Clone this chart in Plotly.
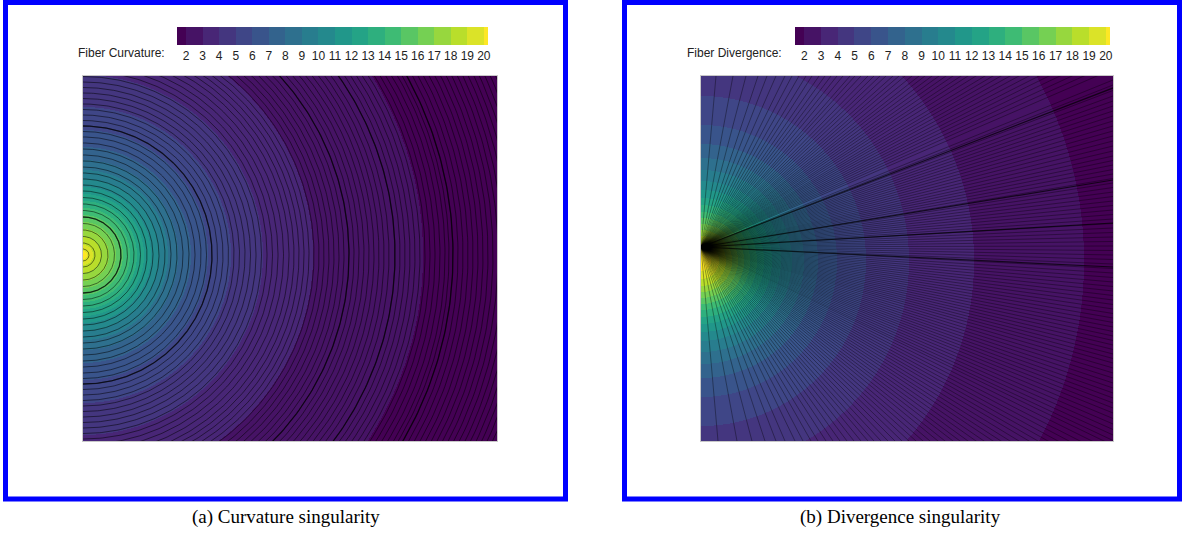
import numpy as np
import plotly.graph_objects as go
from plotly.colors import sample_colorscale

W, H = 1183, 540

# ---------------- data ----------------
LEVELS = list(range(2, 21))
TICK_LABELS = [str(v) for v in LEVELS]
CBAR_MIN, CBAR_MAX = 1.45, 20.25

# radius (1 unit = 100 px) from the singular point at which each level is crossed
CURV_LEVEL_RADII = [3.40, 2.30, 1.80, 1.48, 1.25, 1.08, 0.95, 0.85, 0.76, 0.68,
                    0.61, 0.54, 0.47, 0.40, 0.33, 0.26, 0.18, 0.10, 0.04]
DIV_LEVEL_RADII = [3.83, 2.73, 2.08, 1.65, 1.36, 1.17, 1.03, 0.91, 0.80, 0.71,
                   0.63, 0.56, 0.49, 0.43, 0.37, 0.31, 0.25, 0.18, 0.10]
CURV_CENTER_Y = 0.0
DIV_CENTER_Y = -0.06

# concentric fibres (curvature singularity): radii
CURV_FIBER_RADII = [0.06, 0.12, 0.185, 0.25, 0.315, 0.38, 0.445, 0.51, 0.575, 0.64,
                    0.70, 0.76, 0.82, 0.88, 0.94, 1.00, 1.06, 1.12, 1.18, 1.235,
                    1.29, 1.345, 1.40, 1.455, 1.51, 1.565, 1.62, 1.675, 1.73, 1.785,
                    1.84, 1.895, 1.95, 2.005, 2.06, 2.11, 2.16, 2.21, 2.26, 2.31,
                    2.36, 2.41, 2.46, 2.51, 2.56, 2.61, 2.66, 2.71, 2.76, 2.81,
                    2.86, 2.91, 2.96, 3.01, 3.06, 3.12, 3.17, 3.22, 3.27, 3.32,
                    3.37, 3.42, 3.47, 3.52, 3.57, 3.62, 3.66, 3.70, 3.75, 3.80,
                    3.85, 3.90, 3.95, 4.00, 4.05, 4.10, 4.15, 4.20, 4.25, 4.30,
                    4.35, 4.40, 4.45, 4.50, 4.55]
CURV_DARK_RADII = [0.38, 1.29, 2.66, 3.12, 3.70]

# radial fibres (divergence singularity): where each one leaves the plot
DIV_ORIGIN = (0.0, 0.08)
DIV_RIGHT_EDGE_Y = [1.75, 1.70, 1.645, 1.59, 1.54, 1.49, 1.44, 1.39, 1.34, 1.29,
                    1.24, 1.19, 1.14, 1.09, 1.04, 0.99, 0.945, 0.90, 0.855, 0.81,
                    0.765, 0.72, 0.675, 0.63, 0.585, 0.54, 0.495, 0.45, 0.405, 0.36,
                    0.315, 0.27, 0.225, 0.18, 0.135, 0.09, 0.045, 0.0, -0.045, -0.09,
                    -0.135, -0.18, -0.225, -0.27, -0.315, -0.36, -0.405, -0.45, -0.495, -0.54,
                    -0.585, -0.63, -0.675, -0.72, -0.765, -0.81, -0.855, -0.90, -0.945, -0.99,
                    -1.035, -1.08, -1.13, -1.18, -1.23, -1.28, -1.33, -1.38, -1.43, -1.48,
                    -1.53, -1.58, -1.635, -1.69, -1.745, -1.80, -1.855]
DIV_TOP_EDGE_X = [3.96, 3.83, 3.71, 3.59, 3.48, 3.38, 3.28, 3.18, 3.09, 3.00,
                  2.92, 2.84, 2.75, 2.67, 2.60, 2.52, 2.45, 2.38, 2.31, 2.24,
                  2.18, 2.11, 2.04, 1.98, 1.92, 1.85, 1.79, 1.73, 1.67, 1.60,
                  1.54, 1.49, 1.42, 1.36, 1.30, 1.24, 1.18, 1.11, 1.05, 0.98,
                  0.91, 0.84, 0.75, 0.66, 0.57, 0.45, 0.32, 0.15]
DIV_BOTTOM_EDGE_X = [4.03, 3.91, 3.79, 3.68, 3.57, 3.47, 3.37, 3.28, 3.18, 3.09,
                     3.00, 2.92, 2.83, 2.75, 2.67, 2.59, 2.52, 2.44, 2.37, 2.29,
                     2.22, 2.15, 2.08, 2.01, 1.94, 1.87, 1.80, 1.73, 1.67, 1.60,
                     1.53, 1.46, 1.39, 1.32, 1.25, 1.17, 1.10, 1.02, 0.94, 0.84,
                     0.75, 0.64, 0.51, 0.36, 0.17]
DIV_DARK_RIGHT_EDGE_Y = [1.67, 0.75, 0.32, -0.12]

CAPTIONS = ["(a) Curvature singularity", "(b) Divergence singularity"]
CBAR_TITLES = ["Fiber Curvature:", "Fiber Divergence:"]

# ---------------- layout geometry (pixels) ----------------
X_RANGE_L = [0, 4.14]
X_RANGE_R = [0, 4.12]
Y_RANGE = [-1.86, 1.79]
PLOT_L = (83, 497)
PLOT_R = (701, 1113)
PLOT_TOP, PLOT_BOT = 76, 441
CBAR_L = (177, 488)
CBAR_R = (795, 1110)
CBAR_TOP = 27


def px(x):
    return x / W


def py(y):
    return 1 - y / H


# stepped viridis colour scale over the 20 bands
bounds = [CBAR_MIN] + LEVELS + [CBAR_MAX]
band_cols = sample_colorscale("Viridis", [i / 19 for i in range(20)])
cscale = []
for i, c in enumerate(band_cols):
    t0 = (bounds[i] - CBAR_MIN) / (CBAR_MAX - CBAR_MIN)
    t1 = (bounds[i + 1] - CBAR_MIN) / (CBAR_MAX - CBAR_MIN)
    cscale.append([t0, c])
    cscale.append([t1, c])
BAND_Z = [(bounds[i] + bounds[i + 1]) / 2 for i in range(20)]


def band_field(xr, radii, cy):
    xs = np.arange(xr[0] + 0.005, xr[1], 0.01)
    ys = np.arange(Y_RANGE[0] + 0.005, Y_RANGE[1], 0.01)
    X, Y = np.meshgrid(xs, ys)
    R = np.hypot(X, Y - cy)
    n = (R[..., None] <= np.array(radii)).sum(-1)
    z = np.array(BAND_Z)[n]
    return xs, ys, np.round(z, 3)


def cbar(xl, xr):
    return dict(orientation="h", x=px((xl + xr) / 2), xanchor="center",
                y=py(CBAR_TOP), yanchor="top", len=xr - xl,
                lenmode="pixels", thickness=18, xpad=0, ypad=0,
                tickvals=LEVELS, ticktext=TICK_LABELS, ticks="",
                tickfont=dict(size=12, family="Liberation Sans", color="#222"),
                outlinewidth=0)


fig = go.Figure()

# ---- panel (a)
xs, ys, z = band_field(X_RANGE_L, CURV_LEVEL_RADII, CURV_CENTER_Y)
fig.add_trace(go.Heatmap(x=xs, y=ys, z=z, colorscale=cscale, zmin=CBAR_MIN, zmax=CBAR_MAX,
                         xaxis="x", yaxis="y", hoverinfo="skip", colorbar=cbar(*CBAR_L)))

theta = np.linspace(-np.pi / 2, np.pi / 2, 240)


def arcs(radii):
    xx, yy = [], []
    for r in radii:
        xx += list(r * np.cos(theta)) + [None]
        yy += list(CURV_CENTER_Y + r * np.sin(theta)) + [None]
    return xx, yy


ax_, ay_ = arcs(CURV_FIBER_RADII)
fig.add_trace(go.Scatter(x=ax_, y=ay_, mode="lines", xaxis="x", yaxis="y",
                         line=dict(color="rgba(0,0,0,0.5)", width=1),
                         hoverinfo="skip", showlegend=False))
ax_, ay_ = arcs(CURV_DARK_RADII)
fig.add_trace(go.Scatter(x=ax_, y=ay_, mode="lines", xaxis="x", yaxis="y",
                         line=dict(color="rgba(0,0,0,0.62)", width=1.3),
                         hoverinfo="skip", showlegend=False))

# ---- panel (b)
xs, ys, z = band_field(X_RANGE_R, DIV_LEVEL_RADII, DIV_CENTER_Y)
fig.add_trace(go.Heatmap(x=xs, y=ys, z=z, colorscale=cscale, zmin=CBAR_MIN, zmax=CBAR_MAX,
                         xaxis="x2", yaxis="y2", hoverinfo="skip", colorbar=cbar(*CBAR_R)))


def rays(ends):
    xx, yy = [], []
    ox, oy = DIV_ORIGIN
    for ex, ey in ends:
        xx += [ox, ox + (ex - ox) * 1.05, None]
        yy += [oy, oy + (ey - oy) * 1.05, None]
    return xx, yy


ends = [(X_RANGE_R[1], y) for y in DIV_RIGHT_EDGE_Y]
ends += [(x, Y_RANGE[1]) for x in DIV_TOP_EDGE_X]
ends += [(x, Y_RANGE[0]) for x in DIV_BOTTOM_EDGE_X]
rx, ry = rays(ends)
fig.add_trace(go.Scatter(x=rx, y=ry, mode="lines", xaxis="x2", yaxis="y2",
                         line=dict(color="rgba(0,0,0,0.45)", width=0.8),
                         hoverinfo="skip", showlegend=False))
rx, ry = rays([(X_RANGE_R[1], y) for y in DIV_DARK_RIGHT_EDGE_Y])
fig.add_trace(go.Scatter(x=rx, y=ry, mode="lines", xaxis="x2", yaxis="y2",
                         line=dict(color="rgba(0,0,0,0.7)", width=1.2),
                         hoverinfo="skip", showlegend=False))

axis_common = dict(showgrid=False, zeroline=False, showticklabels=False, ticks="",
                   showline=True, linecolor="#c8c8c8", linewidth=1, mirror=True)
fig.update_layout(
    width=W, height=H, margin=dict(l=0, r=0, t=0, b=0),
    paper_bgcolor="white", plot_bgcolor="white", showlegend=False,
    xaxis=dict(domain=[px(PLOT_L[0]), px(PLOT_L[1])], range=X_RANGE_L, **axis_common),
    yaxis=dict(domain=[py(PLOT_BOT), py(PLOT_TOP)], range=Y_RANGE, **axis_common),
    xaxis2=dict(domain=[px(PLOT_R[0]), px(PLOT_R[1])], range=X_RANGE_R, anchor="y2", **axis_common),
    yaxis2=dict(domain=[py(PLOT_BOT), py(PLOT_TOP)], range=Y_RANGE, anchor="x2", **axis_common),
)

# blue frames
for x0, x1 in [(5.5, 565.5), (624.5, 1179.5)]:
    fig.add_shape(type="rect", xref="paper", yref="paper",
                  x0=px(x0), x1=px(x1), y0=py(499), y1=py(2.5),
                  line=dict(color="#0000ff", width=5), fillcolor="rgba(0,0,0,0)")

# colour-bar titles
for txt, xr in zip(CBAR_TITLES, [167, 784]):
    fig.add_annotation(text=txt, xref="paper", yref="paper", x=px(xr), y=py(53),
                       xanchor="right", yanchor="middle", showarrow=False,
                       font=dict(size=12, family="Liberation Sans", color="#222"))

# captions
for txt, xc in zip(CAPTIONS, [286, 900]):
    fig.add_annotation(text=txt, xref="paper", yref="paper", x=px(xc), y=py(517),
                       xanchor="center", yanchor="middle", showarrow=False,
                       font=dict(size=19, family="Liberation Serif", color="black"))

fig.write_html("out.html", config={"displayModeBar": False},
               post_script="document.body.style.margin='0px';")
